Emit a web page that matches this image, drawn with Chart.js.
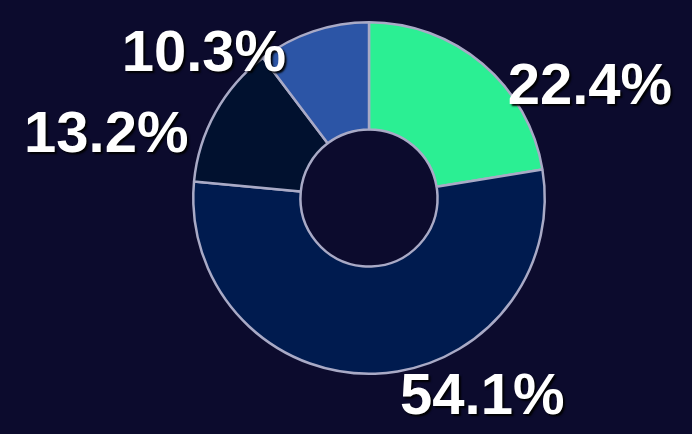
<!DOCTYPE html>
<html>
<head>
<meta charset="utf-8">
<script src="https://cdn.jsdelivr.net/npm/chart.js@4/dist/chart.umd.min.js"></script>
<style>
html,body{margin:0;padding:0;background:#0c0b2d;}
#wrap{width:692px;height:434px;position:relative;}
</style>
</head>
<body>
<div id="wrap"><canvas id="c" width="692" height="434"></canvas></div>
<script>
const categories = ["A", "B", "C", "D"];
const shares = [22.4, 54.1, 13.2, 10.3];
const sliceColors = ["#2bef93", "#001b4f", "#01112f", "#2c55a6"];

const labelPlugin = {
  id: 'outLabels',
  afterDatasetsDraw(chart) {
    const meta = chart.getDatasetMeta(0);
    const ctx = chart.ctx;
    ctx.save();
    ctx.font = 'bold 58px "Liberation Sans", Arial, sans-serif';
    ctx.fillStyle = '#ffffff';
    ctx.textBaseline = 'alphabetic';
    ctx.shadowColor = 'rgba(0,0,0,0.95)';
    ctx.shadowOffsetX = 2;
    ctx.shadowOffsetY = 2;
    ctx.shadowBlur = 2;
    meta.data.forEach((arc, i) => {
      const p = arc.getProps(['x','y','outerRadius','startAngle','endAngle'], true);
      const mid = (p.startAngle + p.endAngle) / 2;
      const px = p.x + Math.cos(mid) * p.outerRadius;
      const py = p.y + Math.sin(mid) * p.outerRadius;
      const right = Math.cos(mid) >= 0;
      ctx.textAlign = right ? 'left' : 'right';
      ctx.fillText(shares[i].toFixed(1) + '%', px + (right ? 25 : -27), py + 40);
    });
    ctx.restore();
  }
};

new Chart(document.getElementById('c'), {
  type: 'doughnut',
  data: {
    labels: categories,
    datasets: [{
      data: shares,
      backgroundColor: sliceColors,
      borderColor: '#a9aac6',
      borderWidth: 2.5
    }]
  },
  options: {
    responsive: false,
    animation: false,
    cutout: '39%',
    layout: { padding: { left: 46, right: 0, top: 21, bottom: 59 } },
    plugins: { legend: { display: false }, tooltip: { enabled: false } }
  },
  plugins: [labelPlugin]
});
</script>
</body>
</html>
